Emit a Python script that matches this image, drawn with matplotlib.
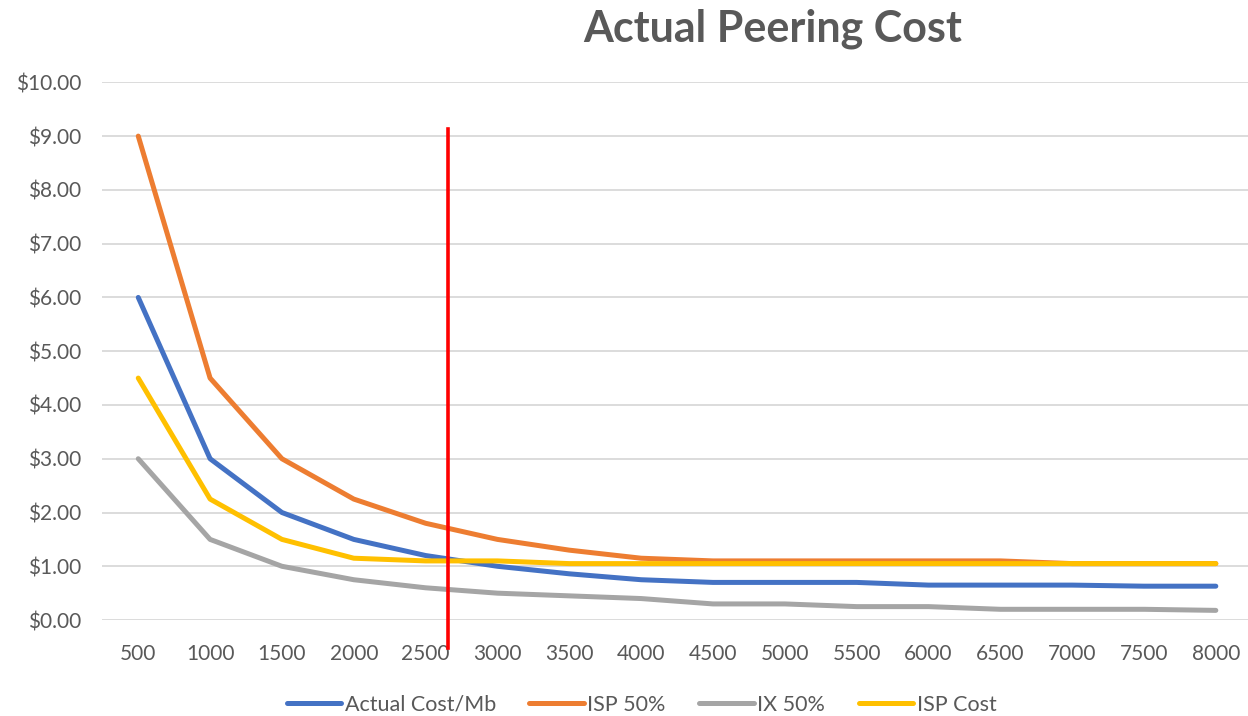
import matplotlib
matplotlib.use("Agg")
import matplotlib.pyplot as plt
import numpy as np

plt.rcParams['font.family'] = ['Lato', 'DejaVu Sans']

# data
categories = ['500', '1000', '1500', '2000', '2500', '3000', '3500', '4000',
              '4500', '5000', '5500', '6000', '6500', '7000', '7500', '8000']
actual_cost = [6.0, 3.0, 2.0, 1.5, 1.2, 1.0, 0.86, 0.75, 0.7, 0.7, 0.7, 0.65, 0.65, 0.65, 0.63, 0.63]
isp_50 = [9.0, 4.5, 3.0, 2.25, 1.8, 1.5, 1.3, 1.15, 1.1, 1.1, 1.1, 1.1, 1.1, 1.05, 1.05, 1.05]
ix_50 = [3.0, 1.5, 1.0, 0.75, 0.6, 0.5, 0.45, 0.4, 0.3, 0.3, 0.25, 0.25, 0.2, 0.2, 0.2, 0.18]
isp_cost = [4.5, 2.25, 1.5, 1.15, 1.1, 1.1, 1.05, 1.05, 1.05, 1.05, 1.05, 1.05, 1.05, 1.05, 1.05, 1.05]

# red marker line (position in category units)
marker_x = 4.31
marker_bottom = -0.52
marker_top = 9.14

series = [
    ('Actual Cost/Mb', actual_cost, '#4472C4'),
    ('ISP 50%', isp_50, '#ED7D31'),
    ('IX 50%', ix_50, '#A5A5A5'),
    ('ISP Cost', isp_cost, '#FFC000'),
]

fig = plt.figure(figsize=(12.48, 7.16), dpi=100)
ax = fig.add_axes([0.082, 0.134, 0.921, 0.751])

x = np.arange(len(categories))
for name, vals, col in series:
    ax.plot(x, vals, color=col, lw=3.6, label=name, solid_capstyle='round',
            solid_joinstyle='round', zorder=3)

ax.plot([marker_x, marker_x], [marker_bottom, marker_top], color='#FF0000', lw=2.6,
        clip_on=False, zorder=4)

ax.set_xlim(-0.5, len(categories) - 0.5)
ax.set_ylim(0, 10)
ax.set_yticks(np.arange(0, 11, 1))
ax.set_yticklabels(['${:.2f}'.format(v) for v in np.arange(0, 11, 1)])
ax.set_xticks(x)
ax.set_xticklabels(categories)
ax.grid(axis='y', color='#D9D9D9', lw=1.3)
ax.set_axisbelow(True)
for s in ax.spines.values():
    s.set_visible(False)
ax.tick_params(axis='both', length=0, labelsize=15, colors='#595959')
ax.tick_params(axis='y', pad=15)
ax.tick_params(axis='x', pad=17)

fig.text(0.619, 0.960, 'Actual Peering Cost', ha='center', va='center',
         fontsize=31, fontweight='bold', color='#595959')

leg = fig.legend(loc='center', bbox_to_anchor=(0.514, 0.016), ncol=4, frameon=False,
                 fontsize=15.5, handlelength=2.55, handletextpad=0.15, columnspacing=1.55)
for t in leg.get_texts():
    t.set_color('#595959')

fig.savefig('out.png', dpi=100)
